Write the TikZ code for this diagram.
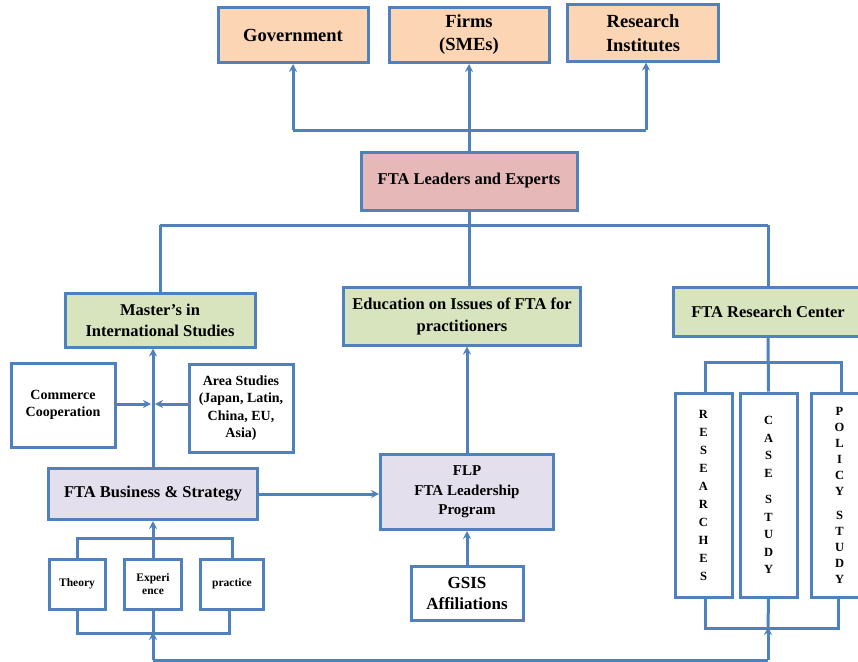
\documentclass[tikz,border=0pt]{standalone}
\usepackage{fontspec}
\setmainfont{Liberation Serif}
\usetikzlibrary{positioning,arrows.meta}
\definecolor{lineblue}{HTML}{4F81BD}
\definecolor{peach}{HTML}{FCD5B4}
\definecolor{rose}{HTML}{E6B9B8}
\definecolor{sage}{HTML}{D7E4BD}
\definecolor{lilac}{HTML}{E4DFEC}

\newcommand{\fs}[2]{\bfseries\fontsize{#1}{#2}\selectfont}

\tikzset{
    box/.style={draw=lineblue, line width=3pt, align=center, inner sep=1pt, text=black},
    link/.style={draw=lineblue, line width=3pt},
    feed/.style={link, -{Stealth[length=8pt, width=8pt]}},
    column/.style={box, minimum width=57pt, minimum height=204pt},
}

\begin{document}
\begin{tikzpicture}[x=1pt, y=-1pt]
    \useasboundingbox (0,0) rectangle (858,661);

    % top row
    \node[box, fill=peach, minimum width=150pt, minimum height=55pt, font=\fs{18.5}{23}] (gov) at (293,35) {Government};
    \node[box, fill=peach, minimum width=160pt, minimum height=55pt, font=\fs{18.5}{23}] (firms) at (469,35) {Firms\\(SMEs)};
    \node[box, fill=peach, minimum width=151pt, minimum height=56pt, font=\fs{18.5}{24}] (inst) at (643,33) {Research\\Institutes};

    \node[box, fill=rose, minimum width=216pt, minimum height=58pt, font=\fs{16.5}{20}] (lead) at (469,181) {FTA Leaders and Experts};

    % second level
    \node[box, fill=sage, minimum width=190pt, minimum height=54pt, font=\fs{16.5}{21}] (mast) at (160,320) {Master’s in\\International Studies};
    \node[box, fill=sage, minimum width=237pt, minimum height=58pt, font=\fs{16.5}{22}] (edu) at (462,316) {Education on Issues of FTA for\\practitioners};
    \node[box, fill=sage, minimum width=190pt, minimum height=49pt, font=\fs{16.5}{20}] (rc) at (768,312) {FTA Research Center};

    % left branch
    \node[box, minimum width=104pt, minimum height=84pt, font=\fs{14}{17.5}] (comm) at (63,405) {Commerce\\Cooperation};
    \node[box, minimum width=104pt, minimum height=88pt, font=\fs{14}{17.5}] (area) at (241,408) {Area Studies\\(Japan, Latin,\\China, EU,\\Asia)};
    \node[box, fill=lilac, minimum width=209pt, minimum height=51pt, font=\fs{16.5}{20}] (bus) at (153,494) {FTA Business \& Strategy};

    \node[box, minimum width=56pt, minimum height=50pt, font=\fs{11.5}{13}] (theory) at (77,584) {Theory};
    \node[box, minimum width=57pt, minimum height=50pt, font=\fs{11.5}{13}] (exp) at (153,584) {Experi\\ence};
    \node[box, minimum width=63pt, minimum height=50pt, font=\fs{11.5}{13}] (prac) at (232,584) {practice};

    % middle branch
    \node[box, fill=lilac, minimum width=173pt, minimum height=75pt, font=\fs{15}{19.5}] (flp) at (467,492) {FLP\\FTA Leadership\\Program};
    \node[box, minimum width=112pt, minimum height=54pt, font=\fs{17}{21}] (gsis) at (467,593) {GSIS\\Affiliations};

    % right branch
    \node[column, font=\fs{12.5}{18}] (rsch) at (703.5,495) {R\\E\\S\\E\\A\\R\\C\\H\\E\\S};
    \node[column, font=\fs{12.5}{17.5}] (case) at (768.5,495) {C\\A\\S\\E\\[9pt]S\\T\\U\\D\\Y};
    \node[column, font=\fs{12.5}{16}] (pol) at (839.5,495) {P\\O\\L\\I\\C\\Y\\[8pt]S\\T\\U\\D\\Y};

    \coordinate (topbus) at (469,130);
    \coordinate (midbus) at (469,225);
    \coordinate (join) at (153,404);
    \coordinate (lowL) at (153,632);
    \coordinate (lowR) at (768,627);
    \coordinate (floorL) at (153,660);
    \coordinate (floorR) at (768,660);

    % to stakeholders
    \draw[link] (gov.south |- topbus) -- ([xshift=3pt]inst.south |- topbus);
    \draw[feed] (lead.north) -- (firms.south);
    \draw[feed] (gov.south |- topbus) -- (gov.south);
    \draw[feed] ([xshift=3pt]inst.south |- topbus) -- ([xshift=3pt]inst.south);

    % to programs
    \draw[link] (lead.south) -- (midbus);
    \draw[link] (mast.north |- midbus) -- (rc.north |- midbus);
    \draw[link] (mast.north |- midbus) -- (mast.north);
    \draw[link] (midbus) -- (midbus |- edu.north);
    \draw[link] (rc.north |- midbus) -- (rc.north);

    % left branch
    \draw[feed] (bus.north) -- (bus.north |- mast.south);
    \draw[feed] (comm.east |- join) -- ([xshift=-2pt]join);
    \draw[feed] (area.west |- join) -- ([xshift=2pt]join);
    \draw[feed] (exp.north) -- (bus.south);
    \draw[link] (theory.north) -- ++(0,-19) -| (prac.north);
    \draw[link] (theory.south) -- ++(0,23) -| ([xshift=-3pt]prac.south);
    \draw[link] (exp.south) -- (lowL);

    % middle branch
    \draw[feed] (bus.east) -- (bus.east -| flp.west);
    \draw[feed] (flp.north) -- (flp.north |- edu.south);
    \draw[feed] (gsis.north) -- (flp.south);

    % right branch
    \draw[link] (rc.south) -- (case.north);
    \draw[link] ([xshift=1.5pt]rsch.north) -- ++(0,-29) -| ([xshift=1.5pt]pol.north);
    \draw[link] ([xshift=1.5pt]rsch.south) -- ++(0,30) -| ([xshift=-1.5pt]pol.south);
    \draw[link] (case.south) -- (lowR);

    % feedback
    \draw[link] (floorL) -- (floorR);
    \draw[feed] (floorL) -- (lowL);
    \draw[feed] (floorR) -- (lowR);
\end{tikzpicture}
\end{document}
